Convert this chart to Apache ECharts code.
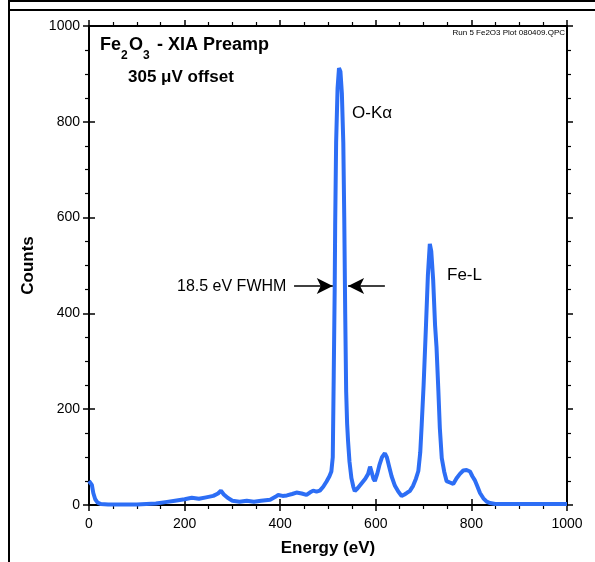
<!DOCTYPE html>
<html>
<head>
<meta charset="utf-8">
<script src="https://cdn.jsdelivr.net/npm/echarts@6/dist/echarts.min.js"></script>
<style>html,body{margin:0;padding:0;background:#fff}#c{width:595px;height:562px}</style>
</head>
<body>
<div id="c"></div>
<script>
var energy = [0,3,6,9,13,18,25,40,60,80,100,120,140,160,180,200,215,230,245,260,270,276,282,290,300,315,330,345,360,379,390,396,405,414,425,434,445,455,462,469,476,483,490,497,503,507,510,512,514,515,517,520,523,526,529,532,534,536,538,540,542,545,549,553,556,562,570,578,584,588,591,595,598,603,608,613,619,623,628,633,640,647,654,660,666,671,678,684,689,693,696,700,705,709,713,716,720,724,727,731,734,738,743,748,755,762,769,776,783,790,797,802,807,812,818,825,832,839,850,880,920,960,1000];
var counts = [50,48,42,25,12,5,2,1,1,1,1,2,3,6,9,12,15,13,16,19,24,30,22,15,9,7,9,7,9,11,17,21,19,20,23,26,24,21,26,30,28,30,38,49,60,70,100,271,450,583,757,870,912,905,860,757,600,400,237,170,133,90,56,38,29,35,45,55,65,80,70,55,50,65,85,100,108,100,80,60,40,28,19,22,26,29,40,55,71,110,167,250,375,480,545,530,470,375,330,236,160,98,70,50,47,44,56,65,72,73,70,60,52,40,25,14,7,4,2,2,2,2,2];
var xTicks = [0,200,400,600,800,1000];
var yTicks = [0,200,400,600,800,1000];
var fwhmLeft = [[429,457],[510,457]];
var fwhmRight = [[619,457],[542,457]];

var data = energy.map(function(e,i){return [e,counts[i]];});
var FONT = 'Liberation Sans, Arial, sans-serif';
var chart = echarts.init(document.getElementById('c'));
function fmt(v){ return String(v); }

function ax(extra){
  var base = {
    type:'value', min:0, max:1000, interval:200,
    axisLine:{show:true, onZero:false, lineStyle:{color:'#000', width:2}},
    axisTick:{show:true, length:6, inside:false, lineStyle:{color:'#000', width:1.5}},
    minorTick:{show:true, splitNumber:4, length:4, lineStyle:{color:'#000', width:1.2}},
    splitLine:{show:false},
    axisLabel:{show:false},
    gridIndex:0
  };
  for (var k in extra) base[k] = extra[k];
  return base;
}

chart.setOption({
  animation:false,
  backgroundColor:'#fff',
  grid:{left:89, right:28, top:26, bottom:55},
  xAxis:[
    ax({position:'bottom', axisLabel:{show:true, formatter:fmt, fontFamily:FONT, fontSize:14, color:'#000', margin:12},
        name:'Energy (eV)', nameLocation:'middle', nameGap:35,
        nameTextStyle:{fontFamily:FONT, fontSize:17, fontWeight:'bold', color:'#000'}}),
    ax({position:'top'}),
    ax({position:'bottom', axisLine:{show:false}, minorTick:{show:false},
        axisTick:{show:true, inside:true, length:6, lineStyle:{color:'#000', width:1.5}}})
  ],
  yAxis:[
    ax({position:'left', axisLabel:{show:true, formatter:fmt, fontFamily:FONT, fontSize:14, color:'#000', margin:9},
        name:'Counts', nameLocation:'middle', nameGap:52, nameRotate:90,
        nameTextStyle:{fontFamily:FONT, fontSize:17, fontWeight:'bold', color:'#000'}}),
    ax({position:'right'}),
    ax({position:'left', axisLine:{show:false}, minorTick:{show:false},
        axisTick:{show:true, inside:true, length:6, lineStyle:{color:'#000', width:1.5}}})
  ],
  series:[{
    type:'line', data:data, xAxisIndex:0, yAxisIndex:0,
    showSymbol:false, symbol:'none',
    lineStyle:{color:'#2d6ef5', width:4},
    markLine:{
      silent:true, symbol:['none','arrow'], symbolSize:[12,16],
      label:{show:false},
      lineStyle:{color:'#000', width:1.5, type:'solid'},
      data:[
        [{coord:fwhmLeft[0]},{coord:fwhmLeft[1]}],
        [{coord:fwhmRight[0]},{coord:fwhmRight[1]}]
      ]
    }
  }],
  graphic:[
    {type:'line', shape:{x1:8,y1:1,x2:595,y2:1}, style:{stroke:'#000', lineWidth:2}},
    {type:'line', shape:{x1:8,y1:10,x2:595,y2:10}, style:{stroke:'#000', lineWidth:2}},
    {type:'line', shape:{x1:9,y1:0,x2:9,y2:562}, style:{stroke:'#000', lineWidth:2}},
    {type:'text', x:100, y:45, style:{text:'Fe', font:'bold 18px '+FONT, fill:'#000', textVerticalAlign:'middle'}},
    {type:'text', x:121, y:56, style:{text:'2', font:'bold 12px '+FONT, fill:'#000', textVerticalAlign:'middle'}},
    {type:'text', x:129, y:45, style:{text:'O', font:'bold 18px '+FONT, fill:'#000', textVerticalAlign:'middle'}},
    {type:'text', x:143, y:56, style:{text:'3', font:'bold 12px '+FONT, fill:'#000', textVerticalAlign:'middle'}},
    {type:'text', x:152, y:45, style:{text:' - XIA Preamp', font:'bold 18px '+FONT, fill:'#000', textVerticalAlign:'middle'}},
    {type:'text', x:128, y:77, style:{text:'305 \u03bcV offset', font:'bold 17px '+FONT, fill:'#000', textVerticalAlign:'middle'}},
    {type:'text', x:565, y:33, style:{text:'Run 5 Fe2O3 Plot 080409.QPC', font:'8px '+FONT, fill:'#000', textAlign:'right', textVerticalAlign:'middle'}},
    {type:'text', x:352, y:113, style:{text:'O-K\u03b1', font:'17px '+FONT, fill:'#000', textVerticalAlign:'middle'}},
    {type:'text', x:447, y:275, style:{text:'Fe-L', font:'17px '+FONT, fill:'#000', textVerticalAlign:'middle'}},
    {type:'text', x:177, y:287, style:{text:'18.5 eV FWHM', font:'16px '+FONT, fill:'#000', textVerticalAlign:'middle'}}
  ]
});
</script>
</body>
</html>
